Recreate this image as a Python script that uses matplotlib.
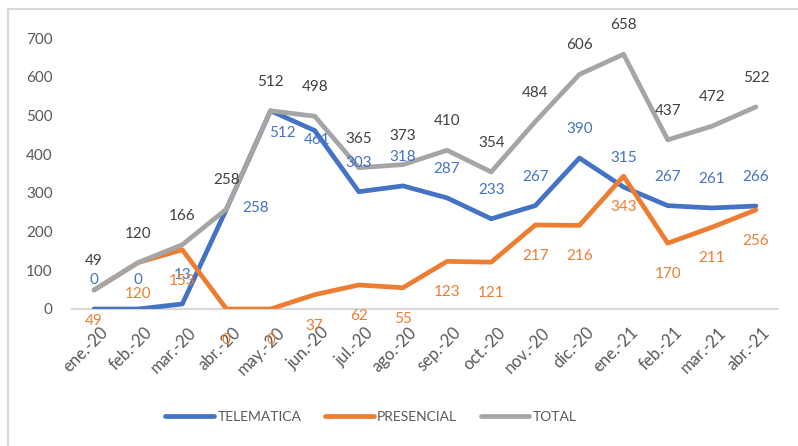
import matplotlib.pyplot as plt
from matplotlib.patches import Rectangle
from matplotlib.transforms import ScaledTranslation

plt.rcParams["font.family"] = ["Lato", "DejaVu Sans"]

meses = ["ene.-20", "feb.-20", "mar.-20", "abr.-20", "may.-20", "jun.-20",
         "jul.-20", "ago.-20", "sep.-20", "oct.-20", "nov.-20", "dic.-20",
         "ene.-21", "feb.-21", "mar.-21", "abr.-21"]
telematica = [0, 0, 13, 258, 512, 461, 303, 318, 287, 233, 267, 390, 315, 267, 261, 266]
presencial = [49, 120, 153, 0, 0, 37, 62, 55, 123, 121, 217, 216, 343, 170, 211, 256]
total = [49, 120, 166, 258, 512, 498, 365, 373, 410, 354, 484, 606, 658, 437, 472, 522]

# label offsets in pixels (most sit above/below, a few were moved by hand)
tele_off = [(0, 29)] * 16
tele_off[3] = (29, 1)
tele_off[4] = (12, -22)
tele_off[5] = (2, -9)

fig = plt.figure(figsize=(7.98, 4.46), dpi=100)
ax = fig.add_axes([72 / 798, 1 - 309 / 446, 706 / 798, 271 / 446])

x = list(range(len(meses)))
ax.plot(x, telematica, color="#4472C4", lw=3.4, label="TELEMATICA", solid_capstyle="round")
ax.plot(x, presencial, color="#ED7D31", lw=3.4, label="PRESENCIAL", solid_capstyle="round")
ax.plot(x, total, color="#A5A5A5", lw=3.4, label="TOTAL", solid_capstyle="round")

for i in x:
    ax.annotate(str(total[i]), (i, total[i]), xytext=(0, 29), textcoords="offset pixels",
                ha="center", va="center", fontsize=11, color="#404040", annotation_clip=False)
    ax.annotate(str(telematica[i]), (i, telematica[i]), xytext=tele_off[i],
                textcoords="offset pixels", ha="center", va="center", fontsize=11,
                color="#4472C4", annotation_clip=False)
    ax.annotate(str(presencial[i]), (i, presencial[i]), xytext=(0, -31),
                textcoords="offset pixels", ha="center", va="center", fontsize=11,
                color="#ED7D31", annotation_clip=False)

ax.set_xlim(-0.5, 15.5)
ax.set_ylim(0, 700)
ax.set_yticks(range(0, 701, 100))
ax.set_xticks(x)
ax.set_xticklabels(meses, rotation=45, ha="right", va="top", rotation_mode="anchor")
ax.tick_params(axis="both", length=0, colors="#595959", labelsize=11)
ax.tick_params(axis="x", labelsize=12, pad=11)
ax.tick_params(axis="y", pad=14)
shift = ScaledTranslation(6 / 100, 0, fig.dpi_scale_trans)
for lab in ax.get_xticklabels():
    lab.set_transform(lab.get_transform() + shift)
for s in ["top", "right", "left"]:
    ax.spines[s].set_visible(False)
ax.spines["bottom"].set_color("#D9D9D9")
ax.spines["bottom"].set_linewidth(1.5)
ax.spines["bottom"].set_zorder(0)

leg = fig.legend(loc="center", bbox_to_anchor=(371 / 798, 1 - 417 / 446), ncol=3,
                 frameon=False, fontsize=10, handlelength=3.5, handletextpad=0.25,
                 columnspacing=1.7)
for t in leg.get_texts():
    t.set_color("#595959")

fig.add_artist(Rectangle((8 / 798, -0.1), 1.2, 1.1 - 9 / 446, transform=fig.transFigure,
                         fill=False, ec="#D9D9D9", lw=1.5))

fig.savefig("out.png", dpi=100)
